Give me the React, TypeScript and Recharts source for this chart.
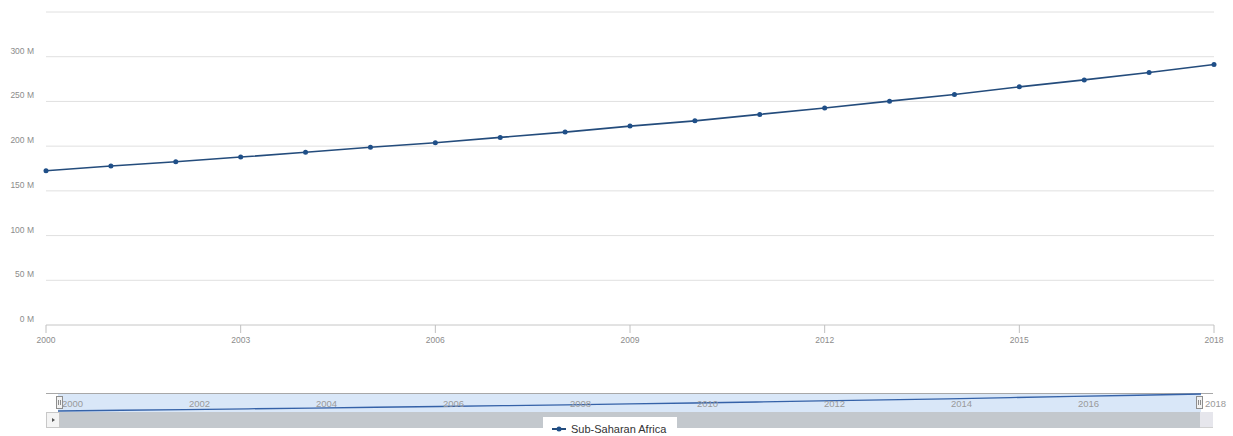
import React from 'react';
import { LineChart, Line, XAxis, YAxis, CartesianGrid } from 'recharts';

// Population, millions
const years = [2000, 2001, 2002, 2003, 2004, 2005, 2006, 2007, 2008, 2009, 2010, 2011, 2012, 2013, 2014, 2015, 2016, 2017, 2018];
const subSaharanAfrica = [172.5, 177.8, 182.6, 187.8, 193.1, 198.7, 203.8, 209.8, 215.7, 222.4, 228.3, 235.5, 242.7, 250.3, 257.8, 266.3, 274.1, 282.4, 291.3];
const yTicks = [0, 50, 100, 150, 200, 250, 300, 350];
const xTicks = [2000, 2003, 2006, 2009, 2012, 2015, 2018];
const navTicks = [2000, 2002, 2004, 2006, 2008, 2010, 2012, 2014, 2016, 2018];
const seriesName = 'Sub-Saharan Africa';

const data = years.map((year, i) => ({ year, value: subSaharanAfrica[i] }));

const FONT = '"Liberation Sans", Arial, sans-serif';
const LINE = '#244c7c';

const YTick = ({ x, y, payload }: any) => {
  if (payload.value === 350) return null;
  return (
    <text x={x} y={y - 6} textAnchor="end" dominantBaseline="central" fontSize={8.5} fill="#8c8c8c" fontFamily={FONT}>
      {`${payload.value} M`}
    </text>
  );
};

const XTick = ({ x, y, payload }: any) => (
  <text x={x} y={y + 5} textAnchor="middle" dominantBaseline="central" fontSize={8.5} fill="#8c8c8c" fontFamily={FONT}>
    {payload.value}
  </text>
);

// navigator labels sit inside the band, just right of each tick
const NavTick = ({ x, payload }: any) => (
  <text x={x + 4} y={10} textAnchor="start" dominantBaseline="central" fontSize={9.5} fill="#9a9a9a" fontFamily={FONT}>
    {payload.value}
  </text>
);

const Handle = ({ left }: { left: number }) => (
  <div style={{ position: 'absolute', left, top: 396, width: 7, height: 13, boxSizing: 'border-box', border: '1px solid #8e8e8e', background: '#f2f2f2' }}>
    <div style={{ position: 'absolute', left: 1, top: 3, width: 1, height: 5, background: '#8e8e8e' }} />
    <div style={{ position: 'absolute', left: 3, top: 3, width: 1, height: 5, background: '#8e8e8e' }} />
  </div>
);

export default function App() {
  return (
    <div style={{ position: 'absolute', left: 0, top: 0, width: 1233, height: 436, background: '#fff', fontFamily: FONT, overflow: 'hidden' }}>
      <LineChart width={1233} height={355} data={data} margin={{ top: 12, right: 19, left: 0, bottom: 0 }}>
        <CartesianGrid vertical={false} stroke="#e0e0e0" />
        <XAxis
          dataKey="year"
          type="number"
          domain={[2000, 2018]}
          ticks={xTicks}
          interval={0}
          height={30}
          tickSize={8}
          axisLine={{ stroke: '#d6d6d6' }}
          tickLine={{ stroke: '#c0c0c0' }}
          tick={<XTick />}
        />
        <YAxis
          width={46}
          domain={[0, 350]}
          ticks={yTicks}
          interval={0}
          tickSize={0}
          tickMargin={12}
          axisLine={false}
          tickLine={false}
          tick={<YTick />}
        />
        <Line
          dataKey="value"
          stroke={LINE}
          strokeWidth={1.6}
          dot={{ r: 2.5, fill: '#1f4f88', stroke: '#1f4f88', strokeWidth: 0 }}
          isAnimationActive={false}
        />
      </LineChart>

      {/* scrollbar */}
      <div style={{ position: 'absolute', left: 46, top: 412, width: 1167, height: 16, background: '#e6e6ec', borderBottom: '1px solid #d0d0d0', boxSizing: 'border-box' }} />
      <div style={{ position: 'absolute', left: 60, top: 412, width: 1140, height: 16, background: '#c3c8cd' }} />
      <div style={{ position: 'absolute', left: 46, top: 412, width: 14, height: 16, background: '#f4f4f4', border: '1px solid #c8c8c8', boxSizing: 'border-box' }}>
        <svg width={12} height={14} style={{ position: 'absolute', left: 0, top: 0 }}>
          <path d="M5 5 L8 7 L5 9 Z" fill="#555" />
        </svg>
      </div>

      {/* navigator: outline, mask and mini series */}
      <div style={{ position: 'absolute', left: 46, top: 393, width: 1167, height: 1, background: '#a8a8a8' }} />
      <div style={{ position: 'absolute', left: 58, top: 394, width: 1143, height: 18, background: '#d9e7f8' }} />
      <Handle left={56} />
      <Handle left={1196} />
      <div style={{ position: 'absolute', left: 46, top: 393 }}>
        <LineChart width={1187} height={29} data={data} margin={{ top: 1, right: 32, left: 12, bottom: 0 }}>
          <XAxis
            dataKey="year"
            type="number"
            domain={[2000, 2018]}
            ticks={navTicks}
            interval={0}
            height={11}
            axisLine={false}
            tickLine={false}
            tick={<NavTick />}
          />
          <YAxis hide domain={['dataMin', 'dataMax']} />
          <Line dataKey="value" stroke="#3562a8" strokeWidth={1.3} dot={false} isAnimationActive={false} />
        </LineChart>
      </div>

      {/* legend */}
      <div style={{ position: 'absolute', left: 543, top: 417, width: 134, height: 19, background: '#fff', display: 'flex', alignItems: 'center' }}>
        <svg width={28} height={19} style={{ flex: 'none' }}>
          <line x1={9} y1={12} x2={23} y2={12} stroke={LINE} strokeWidth={2} />
          <circle cx={16} cy={12} r={2.5} fill="#1f4f88" />
        </svg>
        <span style={{ fontSize: 11, color: '#333', marginTop: 5, whiteSpace: 'nowrap' }}>{seriesName}</span>
      </div>
    </div>
  );
}
